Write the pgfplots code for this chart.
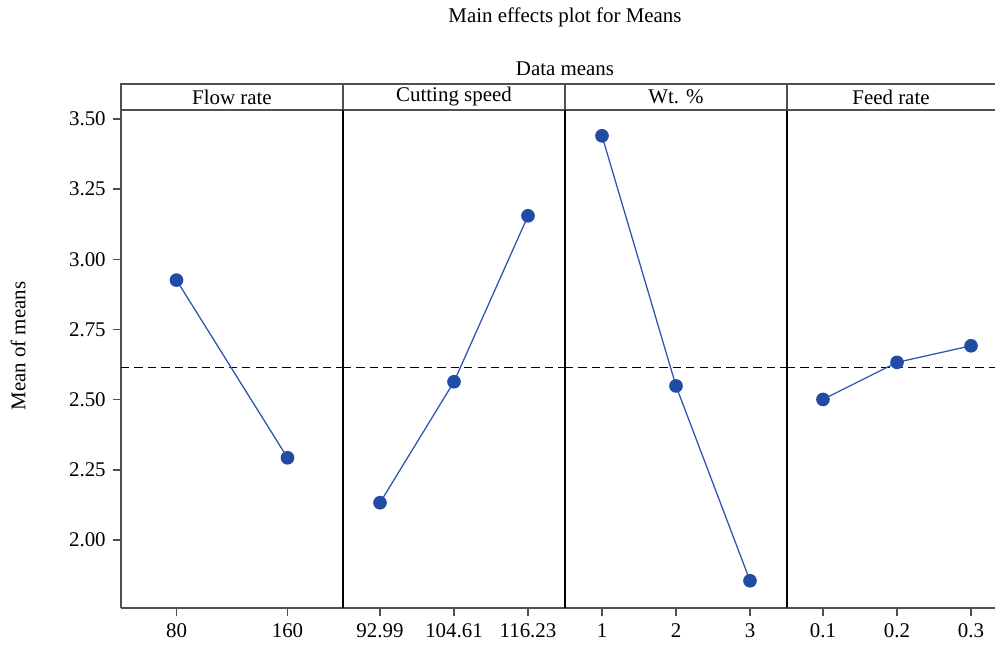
\documentclass[border=0pt]{standalone}
\usepackage{pgfplots}
\pgfplotsset{compat=1.18}
\usepgfplotslibrary{groupplots}
\usetikzlibrary{calc}
\usepackage{fontspec}
\setmainfont{Liberation Serif}
\definecolor{mcol}{RGB}{33,76,165}
\definecolor{lcol}{RGB}{45,85,175}
\definecolor{boxc}{RGB}{80,80,80}
\pgfplotsset{
  meline/.style={color=lcol, line width=0.7pt, mark=*, mark size=3.4pt, mark options={fill=mcol, draw=mcol, solid}},
  meanline/.style={black, dash pattern=on 4.6pt off 2.8pt, line width=0.6pt, mark=none},
}
\begin{document}
\fontsize{11.5}{13.5}\selectfont
\begin{tikzpicture}[font=\fontsize{11.5}{13.5}\selectfont]
\begin{groupplot}[
  group style={group size=4 by 1, horizontal sep=0pt},
  scale only axis,
  height=273.9pt,
  ymin=1.758, ymax=3.532,
  tick align=outside,
  xtick pos=bottom, ytick pos=left,
  major tick length=4.4pt,
  separate axis lines,
  axis line style={boxc, line width=0.8pt},
  tick style={boxc, line width=0.8pt},
  /pgf/number format/assume math mode=true,
  ticklabel style={font=\fontsize{11.5}{13.5}\selectfont},
  clip=false,
  ytick=\empty,
]
\nextgroupplot[width=122.1pt, xmin=-0.5, xmax=1.5, xtick={0,1}, xticklabels={80,160},
  ytick={2,2.25,2.5,2.75,3,3.25,3.5},
  yticklabel style={/pgf/number format/.cd, fixed, fixed zerofill, precision=2}]
\addplot[meanline] coordinates {(-0.5,2.615) (1.5,2.615)};
\addplot[meline] coordinates {(0,2.926) (1,2.293)};
\draw[boxc, line width=0.8pt] (rel axis cs:0,1) -- (rel axis cs:0,1.0522) -- (rel axis cs:1,1.0522);
\node at (rel axis cs:0.5,1.0261) {Flow rate};
\node at (rel axis cs:2.0,1.0823) {Data means};
\node at (rel axis cs:2.0,1.185) {Main effects plot for Means};
\node[rotate=90] at ([xshift=-56.65pt]rel axis cs:0,0.526) {Mean of means};
\coordinate (bl) at ([xshift=-66.55pt, yshift=-20.9pt]rel axis cs:0,0);

\nextgroupplot[width=122.1pt, xmin=-0.5, xmax=2.5, xtick={0,1,2}, xticklabels={92.99,104.61,116.23}, y axis line style={black}]
\addplot[meanline] coordinates {(-0.5,2.615) (2.5,2.615)};
\addplot[meline] coordinates {(0,2.133) (1,2.564) (2,3.155)};
\draw[boxc, line width=0.8pt] (rel axis cs:0,1) -- (rel axis cs:0,1.0522) -- (rel axis cs:1,1.0522);
\node at (rel axis cs:0.5,1.0261) {Cutting speed};

\nextgroupplot[width=122.1pt, xmin=-0.5, xmax=2.5, xtick={0,1,2}, xticklabels={1,2,3}, y axis line style={black}]
\addplot[meanline] coordinates {(-0.5,2.615) (2.5,2.615)};
\addplot[meline] coordinates {(0,3.440) (1,2.549) (2,1.855)};
\draw[boxc, line width=0.8pt] (rel axis cs:0,1) -- (rel axis cs:0,1.0522) -- (rel axis cs:1,1.0522);
\node at (rel axis cs:0.5,1.0261) {Wt. \%};

\nextgroupplot[width=114.4pt, xmin=-0.486, xmax=2.324, xtick={0,1,2}, xticklabels={0.1,0.2,0.3},
  y axis line style={draw=none}]
\addplot[meanline] coordinates {(-0.486,2.615) (2.324,2.615)};
\addplot[meline] coordinates {(0,2.501) (1,2.633) (2,2.692)};
\draw[boxc, line width=0.8pt] (rel axis cs:0,1) -- (rel axis cs:0,1.0522) -- (rel axis cs:1,1.0522);
\node at (rel axis cs:0.5,1.0261) {Feed rate};
\coordinate (tr) at ([yshift=60.5pt]rel axis cs:1,1);
\end{groupplot}
\pgfresetboundingbox
\path[use as bounding box] (bl) rectangle (tr);
\end{tikzpicture}
\end{document}
